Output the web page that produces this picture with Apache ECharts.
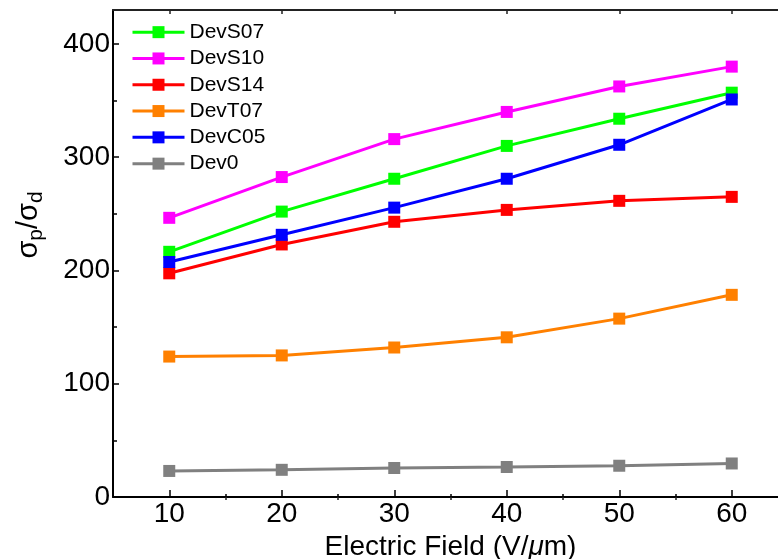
<!DOCTYPE html>
<html>
<head>
<meta charset="utf-8">
<script src="https://cdn.jsdelivr.net/npm/echarts@6/dist/echarts.min.js"></script>
<style>
html,body{margin:0;padding:0;background:#fff;}
#c{width:778px;height:559px;}
</style>
</head>
<body>
<div id="c"></div>
<script>
const fieldValues = [10, 20, 30, 40, 50, 60];
const seriesNames = ['DevS07', 'DevS10', 'DevS14', 'DevT07', 'DevC05', 'Dev0'];
const devS07 = [216.5, 252, 281, 310, 334, 357];
const devS10 = [246.5, 282.5, 316, 340, 362.5, 380];
const devS14 = [197.5, 223, 243, 253.5, 261.5, 265];
const devT07 = [124, 125, 132, 141, 157.5, 178.5];
const devC05 = [207.5, 231.5, 255.5, 281, 311, 351];
const dev0 = [23, 24, 25.6, 26.5, 27.6, 29.6];
const xMajorTicks = [10, 20, 30, 40, 50, 60];
const xMinorTicks = [15, 25, 35, 45, 55];
const yMajorTicks = [0, 100, 200, 300, 400];
const yMinorTicks = [50, 150, 250, 350];

const seriesValues = [devS07, devS10, devS14, devT07, devC05, dev0];
const colors = ['#00ff00', '#ff00ff', '#ff0000', '#ff8000', '#0000ff', '#808080'];
const FONT = '"Liberation Sans", Arial, sans-serif';

const chart = echarts.init(document.getElementById('c'), null, {renderer: 'canvas'});

function xAx(extra) {
  return Object.assign({
    type: 'value', min: 5, max: 65, gridIndex: 0,
    splitLine: {show: false},
    axisLine: {show: false},
    axisLabel: {show: false},
    axisTick: {show: false}
  }, extra);
}
function yAx(extra) {
  return Object.assign({
    type: 'value', min: 0, max: 430, gridIndex: 0,
    splitLine: {show: false},
    axisLine: {show: false},
    axisLabel: {show: false},
    axisTick: {show: false}
  }, extra);
}

const option = {
  backgroundColor: '#fff',
  animation: false,
  textStyle: {fontFamily: FONT},
  grid: {left: 113, top: 10, right: -10, bottom: 62, containLabel: false, outerBoundsMode: 'none'},
  legend: {
    orient: 'vertical',
    left: 131, top: 19, padding: 0,
    itemWidth: 52, itemHeight: 15, itemGap: 0,
    data: seriesNames,
    lineStyle: {width: 3},
    textStyle: {fontFamily: FONT, fontSize: 21, color: '#000', lineHeight: 26.3}
  },
  xAxis: [
    xAx({
      position: 'bottom',
      axisLine: {show: true, onZero: false, lineStyle: {color: '#000', width: 2}},
      axisTick: {show: true, inside: true, length: 7, customValues: xMajorTicks, lineStyle: {color: '#000', width: 1.5}},
      axisLabel: {show: true, customValues: xMajorTicks, margin: 3, fontSize: 28, color: '#000', fontFamily: FONT},
      name: '{n|Electric Field (V/}{i|μ}{n|m)}',
      nameLocation: 'middle', nameGap: 28,
      nameTextStyle: {rich: {
        n: {fontSize: 28, color: '#000', fontFamily: FONT},
        i: {fontSize: 28, color: '#000', fontFamily: FONT, fontStyle: 'italic'}
      }}
    }),
    xAx({position: 'bottom', axisTick: {show: true, inside: true, length: 3, customValues: xMinorTicks, lineStyle: {color: '#000', width: 1.5}}}),
    xAx({position: 'top',
      axisLine: {show: true, onZero: false, lineStyle: {color: '#222', width: 2}},
      axisTick: {show: true, inside: true, length: 4, customValues: xMajorTicks, lineStyle: {color: '#222', width: 1.5}}}),
    xAx({position: 'top', axisTick: {show: true, inside: true, length: 3, customValues: xMinorTicks, lineStyle: {color: '#222', width: 1.5}}})
  ],
  yAxis: [
    yAx({
      position: 'left',
      axisLine: {show: true, onZero: false, lineStyle: {color: '#000', width: 2}},
      axisTick: {show: true, inside: true, length: 6, customValues: yMajorTicks, lineStyle: {color: '#000', width: 1.5}},
      axisLabel: {show: true, customValues: yMajorTicks, margin: 3, fontSize: 28, color: '#000', fontFamily: FONT},
      name: '{a|σ}{b|p}{a|/σ}{b|d}',
      nameLocation: 'middle', nameGap: 66, nameRotate: 90,
      nameTextStyle: {padding: [0, 0, 0, 57], rich: {
        a: {fontSize: 29, color: '#000', fontFamily: FONT, lineHeight: 36},
        b: {fontSize: 21, color: '#000', fontFamily: FONT, lineHeight: 21, verticalAlign: 'bottom', padding: [30, 0, 0, 0]}
      }}
    }),
    yAx({position: 'left', axisTick: {show: true, inside: true, length: 4, customValues: yMinorTicks, lineStyle: {color: '#000', width: 1.5}}})
  ],
  series: seriesNames.map((name, k) => ({
    name: name,
    type: 'line',
    xAxisIndex: 0, yAxisIndex: 0,
    data: fieldValues.map((x, i) => [x, seriesValues[k][i]]),
    symbol: 'rect',
    symbolSize: 12,
    showAllSymbol: true,
    color: colors[k],
    lineStyle: {width: 3, color: colors[k]},
    itemStyle: {color: colors[k]},
    clip: false
  }))
};
chart.setOption(option);
</script>
</body>
</html>
